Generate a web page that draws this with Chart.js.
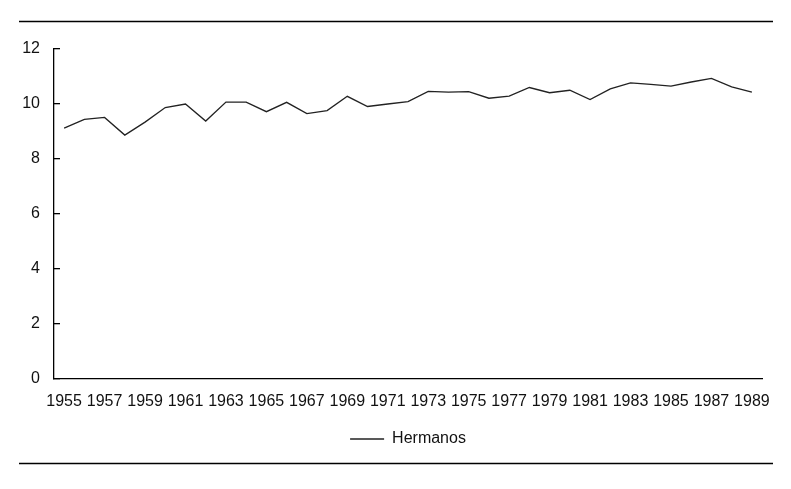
<!DOCTYPE html>
<html>
<head>
<meta charset="utf-8">
<script src="https://cdn.jsdelivr.net/npm/chart.js@4"></script>
<style>
  html, body { margin: 0; padding: 0; background: #fff; }
  #wrap { width: 791px; height: 489px; }
</style>
</head>
<body>
<div id="wrap"><canvas id="chart" width="791" height="489"></canvas></div>
<script>
// años 1955 - 1989
const years = [];
for (let y = 1955; y <= 1989; y++) years.push(String(y));

// serie "Hermanos"
const hermanos = [
  9.12, 9.44, 9.51, 8.87, 9.34, 9.87, 10.0, 9.38, 10.07, 10.07,
  9.72, 10.06, 9.65, 9.76, 10.28, 9.91, 10.0, 10.09, 10.46, 10.43,
  10.45, 10.21, 10.29, 10.6, 10.41, 10.5, 10.16, 10.55, 10.77, 10.71,
  10.65, 10.8, 10.93, 10.62, 10.43
];

const yTicks = [0, 2, 4, 6, 8, 10, 12];

const font = { family: '"Liberation Sans", Arial, sans-serif', size: 16 };

// líneas horizontales arriba y abajo
const rulesPlugin = {
  id: 'rules',
  afterDraw(chart) {
    const c = chart.ctx;
    c.save();
    c.strokeStyle = '#000';
    c.lineWidth = 1.3;
    [21.5, 463.5].forEach(y => {
      c.beginPath();
      c.moveTo(19, y);
      c.lineTo(773, y);
      c.stroke();
    });
    c.restore();
  }
};

new Chart(document.getElementById('chart'), {
  type: 'line',
  data: {
    labels: years,
    datasets: [{
      label: 'Hermanos',
      data: hermanos,
      borderColor: '#222',
      backgroundColor: '#222',
      borderWidth: 1.3,
      pointRadius: 0,
      tension: 0,
      fill: false
    }]
  },
  options: {
    responsive: false,
    animation: false,
    layout: { padding: { top: 49, right: 29, left: 0, bottom: 32 } },
    scales: {
      x: {
        offset: true,
        grid: { display: true, drawOnChartArea: false, drawTicks: false },
        border: { display: true, color: '#000', width: 1.3 },
        ticks: {
          color: '#111',
          font: font,
          padding: 13,
          maxRotation: 0,
          autoSkip: false,
          callback: function (v, i) { return i % 2 === 0 ? this.getLabelForValue(v) : ''; }
        },
        afterFit(scale) { scale.height = 42; }
      },
      y: {
        min: 0,
        max: 12,
        afterBuildTicks(scale) { scale.ticks = yTicks.map(v => ({ value: v })); },
        grid: { display: true, drawOnChartArea: false, drawTicks: true, tickLength: -6, color: '#000', lineWidth: 1.3 },
        border: { display: true, color: '#000', width: 1.3 },
        ticks: { color: '#111', font: font, padding: 20 },
        afterFit(scale) { scale.width = 54; }
      }
    },
    plugins: {
      legend: {
        position: 'bottom',
        fullSize: false,
        labels: {
          color: '#111',
          font: font,
          usePointStyle: true,
          pointStyle: 'line',
          pointStyleWidth: 34,
          padding: 10
        }
      },
      tooltip: { enabled: false }
    }
  },
  plugins: [rulesPlugin]
});
</script>
</body>
</html>
